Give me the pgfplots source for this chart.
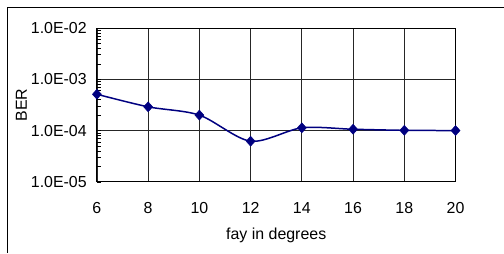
\documentclass[border=0pt]{standalone}
\usepackage{pgfplots}
\pgfplotsset{compat=1.18}
\usepackage{fontspec}
\setmainfont{Liberation Sans}
\definecolor{navyline}{RGB}{0,0,128}
\begin{document}
\begin{tikzpicture}
\begin{axis}[
  scale only axis,
  width=359bp, height=154bp,
  at={(0,0)}, anchor=south west,
  xmin=6, xmax=20, ymin=1e-5, ymax=1e-2,
  ymode=log,
  xtick={6,8,...,20},
  ytick={1e-5,1e-4,1e-3,1e-2},
  yticklabels={1.0E-05,1.0E-04,1.0E-03,1.0E-02},
  /pgf/number format/assume math mode=true,
  tick pos=left,
  tick align=inside,
  major tick length=0pt,
  minor tick length=4bp,
  minor tick style={black, line width=0.6bp},
  grid=major,
  major grid style={black!85, line width=0.8bp},
  axis line style={black, line width=0.9bp},
  every tick label/.append style={font=\fontsize{16}{19}\selectfont, inner sep=0pt},
  yticklabel style={anchor=east, xshift=-10bp},
  xticklabel style={anchor=base, yshift=-31.5bp},
  xlabel={fay in degrees},
  ylabel={BER},
  label style={font=\fontsize{16}{19}\selectfont, inner sep=0pt},
  xlabel style={at={(axis description cs:0.5,0)}, anchor=north, yshift=-46bp},
  ylabel style={at={(axis description cs:-0.2103,0.5)}, anchor=center},
]
\addplot[navyline, line width=1.5bp, smooth, tension=0.5,
  mark=diamond*, mark size=5bp, mark options={fill=navyline, draw=navyline, line width=0.5bp, xscale=1.2}]
  coordinates {(6,5.1e-4) (8,2.9e-4) (10,2.0e-4) (12,6.2e-5) (14,1.13e-4) (16,1.06e-4) (18,1.01e-4) (20,1.0e-4)};
\end{axis}
\draw[black, line width=1bp] (-89bp,-71bp) -- (-89bp,174bp) -- (407bp,174bp);
\useasboundingbox (-97bp,-71bp) rectangle (407bp,182bp);
\end{tikzpicture}
\end{document}
